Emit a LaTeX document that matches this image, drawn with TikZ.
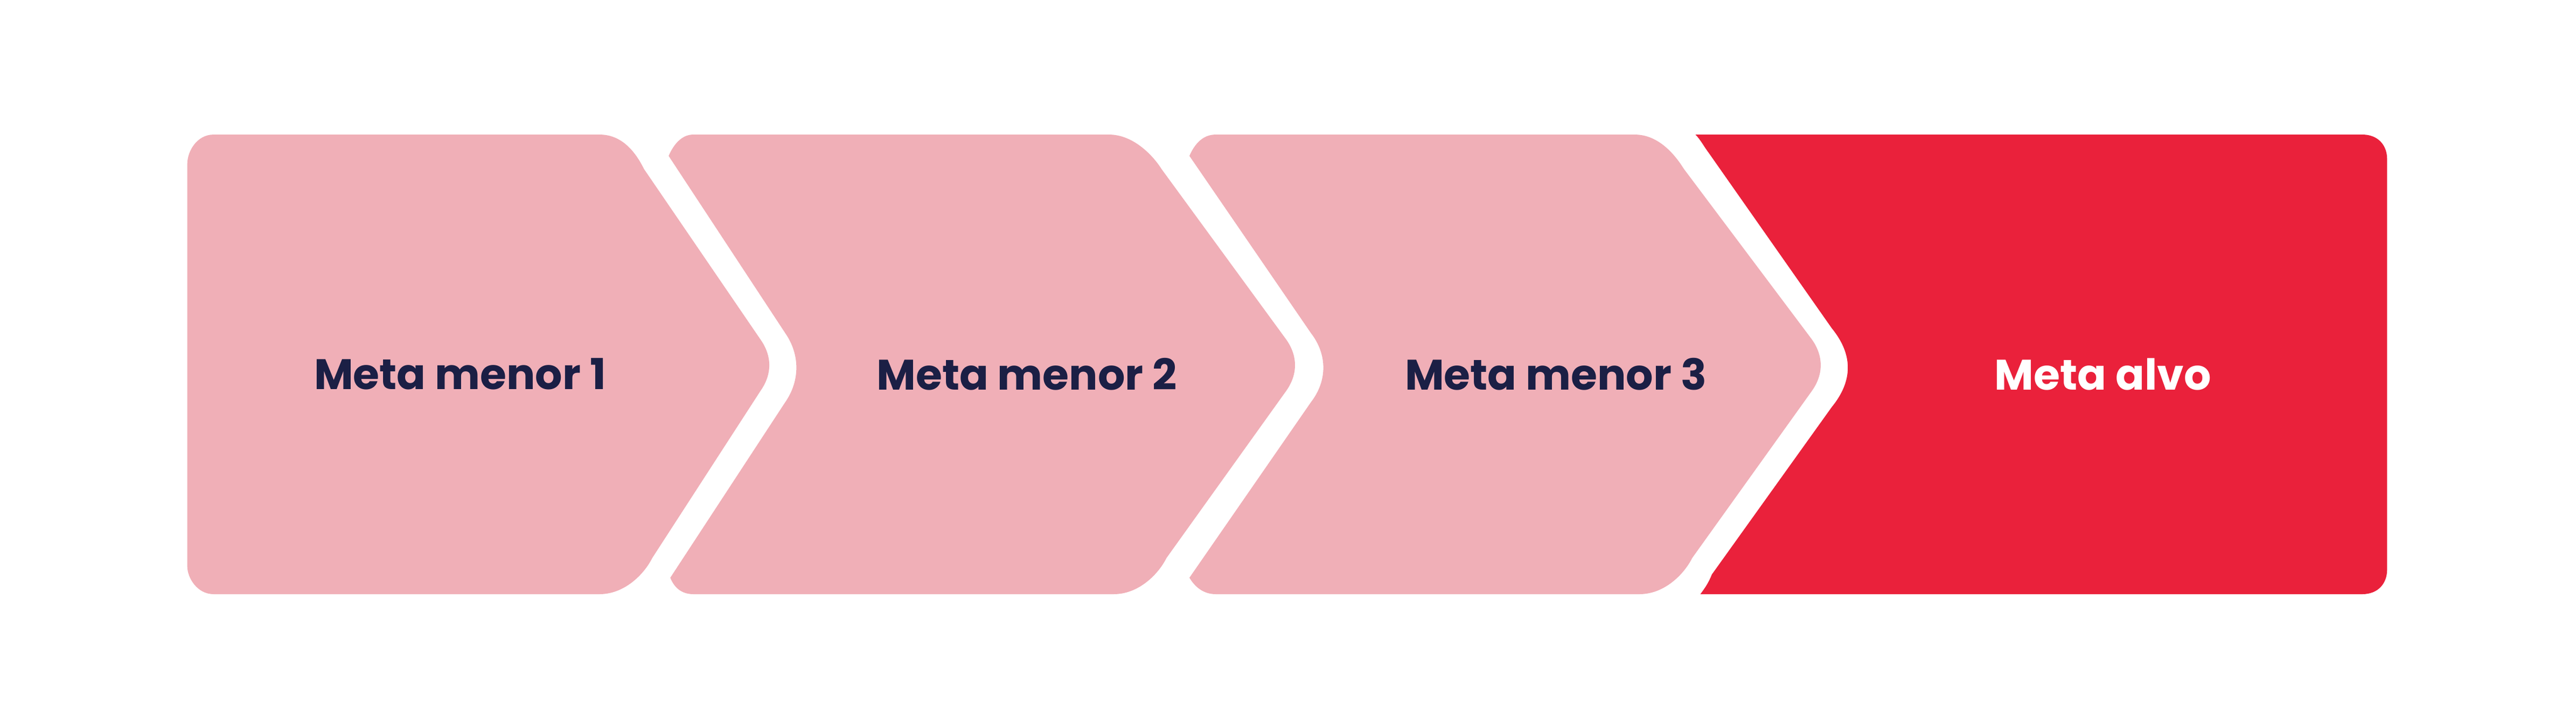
\documentclass[tikz,border=0pt]{standalone}
\usepackage{fontspec}
\setmainfont{Poppins}
\definecolor{pinkc}{HTML}{F0AFB7}
\definecolor{redc}{HTML}{EA213B}
\definecolor{navy}{HTML}{1B1F45}
\begin{document}
\begin{tikzpicture}[x=1pt,y=-1pt,
  lbl/.style={font=\fontsize{26}{30}\selectfont\bfseries,text=navy,inner sep=0pt}]
\useasboundingbox (0,0) rectangle (1568,438);
\fill[pinkc] (130,82) -- (365,82) .. controls (380,82) and (388,95) .. (392,103) -- (463,207) .. controls (470,217) and (470,228) .. (463,238) -- (397,340) .. controls (392,350) and (380,362) .. (365,362) -- (130,362) .. controls (120,362) and (114,352) .. (114,345) -- (114,100) .. controls (114,92) and (120,82) .. (130,82) -- cycle;
\fill[pinkc] (422,82) -- (675,82) .. controls (690,82) and (702,95) .. (707,103) -- (783,207) .. controls (790,217) and (790,228) .. (783,238) -- (710,340) .. controls (705,350) and (693,362) .. (678,362) -- (422,362) .. controls (414,362) and (410,357) .. (408,352) -- (478,245) .. controls (487,232) and (487,216) .. (478,203) -- (407,95) .. controls (410,88) and (415,82) .. (422,82) -- cycle;
\fill[pinkc] (740,82) -- (995,82) .. controls (1010,82) and (1020,95) .. (1025,103) -- (1103,207) .. controls (1110,217) and (1110,228) .. (1103,238) -- (1030,340) .. controls (1025,350) and (1013,362) .. (998,362) -- (740,362) .. controls (732,362) and (727,357) .. (724,352) -- (798,245) .. controls (808,232) and (808,216) .. (798,203) -- (724,95) .. controls (727,88) and (732,82) .. (740,82) -- cycle;
\fill[redc] (1032,82) -- (1438,82) .. controls (1447,82) and (1453,88) .. (1453,97) -- (1453,347) .. controls (1453,356) and (1447,362) .. (1438,362) -- (1035,362) .. controls (1038,358) and (1040,355) .. (1042,350) -- (1115,248) .. controls (1128,232) and (1128,216) .. (1115,200) -- (1040,93) .. controls (1037,89) and (1035,85) .. (1032,82) -- cycle;
\node[lbl] (t1) at (280,228) {Meta menor 1};
\node[lbl] (t2) at (625,228) {Meta menor 2};
\node[lbl] (t3) at (947,228) {Meta menor 3};
\node[lbl,text=white] (t4) at (1280,228) {Meta alvo};
\end{tikzpicture}
\end{document}
